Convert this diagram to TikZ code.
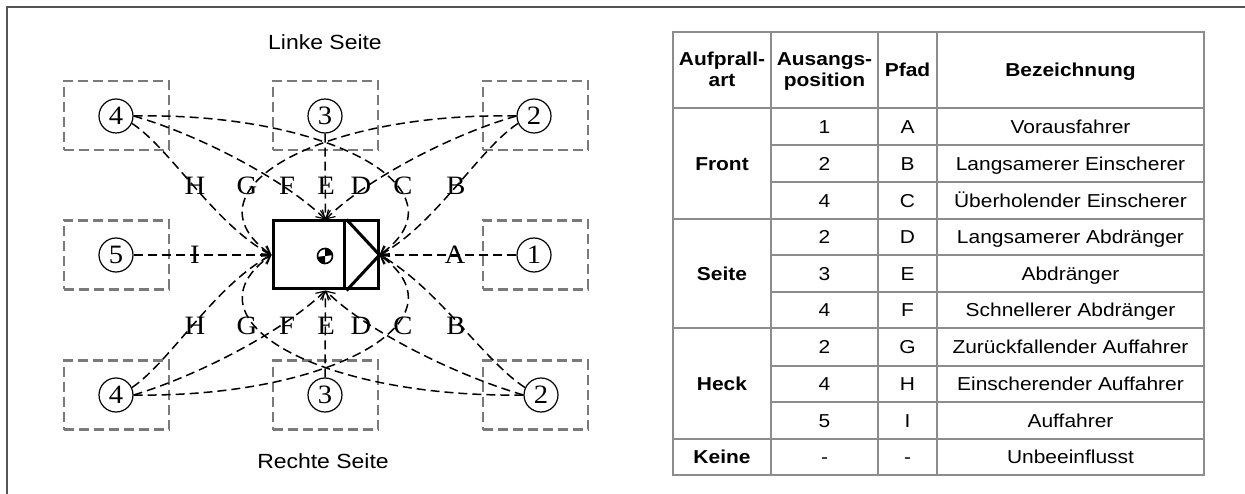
\documentclass[tikz,border=0pt]{standalone}
\usepackage{fontspec}
\setmainfont{Liberation Serif}
\newfontfamily\tabfont{Liberation Sans}[FakeStretch=1.12]
\newfontfamily\lblfont{Liberation Serif}[FakeStretch=1.08]
\usetikzlibrary{arrows.meta}

\definecolor{framegray}{HTML}{555555}
\definecolor{zonegray}{HTML}{7A7A7A}
\definecolor{gridgray}{HTML}{8C8C8C}

\tikzset{
  framestroke/.style={draw=framegray, line width=2pt},
  zone/.style={draw=zonegray, line width=2.6pt, dash pattern=on 10pt off 5pt,
    minimum width=105pt, minimum height=69pt, inner sep=0pt},
  posnode/.style={circle, draw, line width=1.2pt, minimum size=34pt, inner sep=0pt,
    font=\lblfont\fontsize{26.5}{26.5}\selectfont},
  pathlbl/.style={inner sep=0pt, font=\lblfont\fontsize{26.5}{26.5}\selectfont},
  conn/.style={line width=1.5pt, dash pattern=on 9pt off 5pt,
    -{Straight Barb[length=8pt,width=10pt,line width=1.2pt]}},
  carbody/.style={draw, line width=3pt, minimum width=105pt, minimum height=68pt, inner sep=0pt},
  sidetitle/.style={inner sep=0pt, font=\tabfont\fontsize{20.5}{24}\selectfont},
  cell/.style={inner sep=0pt, text height=13.3pt, text depth=0pt,
    font=\tabfont\fontsize{18.7}{22}\selectfont},
  headcell/.style={cell, font=\tabfont\bfseries\fontsize{18.7}{22}\selectfont},
  grid/.style={draw=gridgray, line width=1.5pt}
}

\begin{document}
\begin{tikzpicture}[x=1pt, y=-1pt]
\useasboundingbox (0,0) rectangle (1245,494);

% outer frame
\draw[framestroke] (7,494) -- (7,7.5) -- (1245,7.5);

% side captions
\node[sidetitle] (linke) at (325,42) {Linke Seite};
\node[sidetitle] (rechte) at (323,461) {Rechte Seite};

% start zones
\node[zone] (z4t) at (116.5,115.5) {};
\node[zone] (z3t) at (325.5,115.5) {};
\node[zone] (z2t) at (535.5,115.5) {};
\node[zone] (z5)  at (116.5,255) {};
\node[zone] (z1)  at (535.5,255) {};
\node[zone] (z4b) at (116.5,395) {};
\node[zone] (z3b) at (325.5,395) {};
\node[zone] (z2b) at (535.5,395) {};

% start positions
\node[posnode] (p4t) at (116,116) {4};
\node[posnode] (p3t) at (325,116) {3};
\node[posnode] (p2t) at (534,116) {2};
\node[posnode] (p5)  at (116,255) {5};
\node[posnode] (p1)  at (534,255) {1};
\node[posnode] (p4b) at (116,395) {4};
\node[posnode] (p3b) at (325,395) {3};
\node[posnode] (p2b) at (541,395) {2};

% ego vehicle
\node[carbody] (car) at (325.5,255) {};
\coordinate (divtop) at ([xshift=-35pt]car.north east);
\coordinate (divbot) at ([xshift=-35pt]car.south east);
\draw[line width=3pt] (divtop) -- (divbot);
\draw[line width=3pt, line join=miter] ([xshift=2pt]divtop) -- (car.east) -- ([xshift=2pt]divbot);
% centre of gravity mark
\node[circle, draw, line width=1.6pt, minimum size=15pt, inner sep=0pt] (cog) at (325,256) {};
\fill (cog.center) -- (cog.north) arc[start angle=90, end angle=0, radius=7.5pt] -- cycle;
\fill (cog.center) -- (cog.south) arc[start angle=270, end angle=180, radius=7.5pt] -- cycle;

% paths from the left side
\draw[conn] (p4t.-25) .. controls (170,148) and (215,225) .. (car.west);   % H
\draw[conn] (p4t.east) .. controls (200,135) and (285,180) .. (car.north); % F
\draw[conn] (p4t.east) .. controls (330,112) and (470,190) .. (car.east);  % C
\draw[conn] (p3t.south) -- (car.north);                                    % E
\draw[conn] (p2t.west) .. controls (450,135) and (365,180) .. (car.north); % D
\draw[conn] (p2t.west) .. controls (320,112) and (180,190) .. (car.west);  % G
\draw[conn] (p2t.-155) .. controls (480,148) and (435,225) .. (car.east);  % B

% straight paths front and rear
\draw[conn] (p5.east) -- (car.west);  % I
\draw[conn] (p1.west) -- (car.east);  % A

% paths from the right side
\draw[conn] (p4b.25) .. controls (170,362) and (215,285) .. (car.west);    % H
\draw[conn] (p4b.east) .. controls (200,375) and (285,330) .. (car.south); % F
\draw[conn] (p4b.east) .. controls (330,398) and (470,320) .. (car.east);  % C
\draw[conn] (p3b.north) -- (car.south);                                    % E
\draw[conn] (p2b.west) .. controls (455,375) and (365,330) .. (car.south); % D
\draw[conn] (p2b.west) .. controls (320,398) and (180,320) .. (car.west);  % G
\draw[conn] (p2b.155) .. controls (485,362) and (435,285) .. (car.east);   % B

% path labels
\foreach \lx/\lt in {195/H,247/G,287/F,326/E,361/D,403/C,456/B}{
  \node[pathlbl] (top\lt) at (\lx,186) {\lt};
  \node[pathlbl] (bot\lt) at (\lx,326) {\lt};
}
\node[pathlbl] (lblI) at (195,255) {I};
\node[pathlbl] (lblA) at (455,255) {A};

% ---- table ----
\draw[grid] (673,32) rectangle (1204,475);
\foreach \cx in {771,878,937}{ \draw[grid] (\cx,32) -- (\cx,475); }
\foreach \ry in {108,219,328,439}{ \draw[grid] (673,\ry) -- (1204,\ry); }
\foreach \ry in {145,182,255,292,366,402}{ \draw[grid] (771,\ry) -- (1204,\ry); }

% header
\node[headcell] (hart1) at (722,59) {Aufprall-};
\node[headcell] (hart2) at (722,80) {art};
\node[headcell] (hpos1) at (824.5,59) {Ausangs-};
\node[headcell] (hpos2) at (824.5,80) {position};
\node[headcell] (hpfad) at (907.5,70) {Pfad};
\node[headcell] (hbez)  at (1070.5,70) {Bezeichnung};

% groups
\node[headcell] (gfront) at (722,163.5) {Front};
\node[headcell] (gseite) at (722,273.5) {Seite};
\node[headcell] (gheck)  at (722,384)   {Heck};
\node[headcell] (gkeine) at (722,457)   {Keine};

% rows
\foreach \ry/\rp/\rq/\rb [count=\i] in {
  126.5/1/A/Vorausfahrer,
  163.5/2/B/Langsamerer Einscherer,
  200.5/4/C/Überholender Einscherer,
  237/2/D/Langsamerer Abdränger,
  273.5/3/E/Abdränger,
  310/4/F/Schnellerer Abdränger,
  347/2/G/Zurückfallender Auffahrer,
  384/4/H/Einscherender Auffahrer,
  420.5/5/I/Auffahrer,
  457/-/-/Unbeeinflusst}{
  \node[cell] (pos\i)  at (824.5,\ry) {\rp};
  \node[cell] (pfad\i) at (907.5,\ry) {\rq};
  \node[cell] (bez\i)  at (1070.5,\ry) {\rb};
}
\end{tikzpicture}
\end{document}
